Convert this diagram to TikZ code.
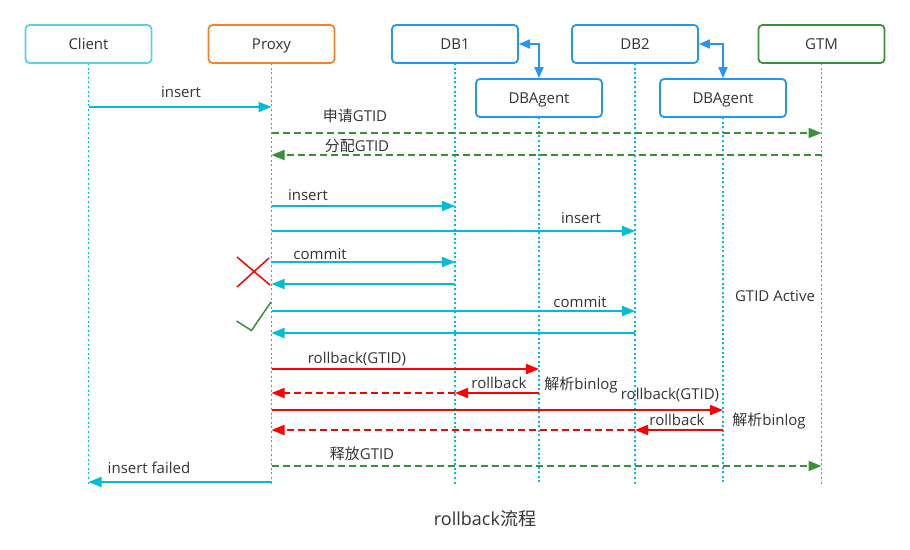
\documentclass[tikz,border=0pt]{standalone}
\usepackage{fontspec}
\setmainfont{Open Sans}
\newfontfamily\cjk{Noto Sans CJK SC}
\usetikzlibrary{arrows.meta}
\definecolor{txt}{HTML}{333333}
\definecolor{lifec}{HTML}{00BCD4}
\definecolor{cyanc}{HTML}{00BCD4}
\definecolor{clientc}{HTML}{5BD2E2}
\definecolor{proxyc}{HTML}{F5822A}
\definecolor{bluec}{HTML}{2196F3}
\definecolor{greenc}{HTML}{3A8F3A}
\definecolor{redc}{HTML}{FF0000}
\begin{document}
\begin{tikzpicture}[x=1pt,y=-1pt,
  box/.style={draw, rounded corners=4pt, line width=1.8pt, minimum width=126pt,
    minimum height=38pt, fill=white, text=txt, font=\fontsize{15}{17}\selectfont,
    text height=11pt, text depth=0pt},
  life/.style={draw=lifec, line width=1.7pt, dash pattern=on 2pt off 2.6pt},
  tip/.style={-{Triangle[length=13pt,width=10pt]}},
  msg/.style={draw=cyanc, line width=1.8pt, tip},
  gmsg/.style={draw=greenc, line width=1.8pt, dash pattern=on 7pt off 4pt, tip},
  rmsg/.style={draw=redc, line width=1.8pt, tip},
  rdmsg/.style={draw=redc, line width=1.8pt, dash pattern=on 7pt off 4pt, tip},
  bmsg/.style={draw=bluec, line width=1.8pt, {Triangle[length=11pt,width=9pt]}-{Triangle[length=11pt,width=9pt]}},
  lab/.style={text=txt, font=\fontsize{15}{17}\selectfont, inner sep=0pt}
]
\useasboundingbox (0,0) rectangle (910,549);
% lifelines
\foreach \x/\y in {88.5/63, 271.5/63, 455/63, 635/63, 821.5/63, 539/117, 723/117}
  \draw[life] (\x,\y) -- (\x,485);
% participants
\node[box, draw=clientc] (client) at (88.5,44) {Client};
\node[box, draw=proxyc] (proxy) at (271.5,44) {Proxy};
\node[box, draw=bluec] (db1) at (455,44) {DB1};
\node[box, draw=bluec] (db2) at (635,44) {DB2};
\node[box, draw=greenc] (gtm) at (821.5,44) {GTM};
\node[box, draw=bluec] (ag1) at (539,98) {DBAgent};
\node[box, draw=bluec] (ag2) at (723,98) {DBAgent};
\draw[bmsg] (db1.east) -| (ag1.north);
\draw[bmsg] (db2.east) -| (ag2.north);
% messages
\draw[msg] (client |- 0,107) -- (proxy |- 0,107);
\node[lab] (l1) at (181,92) {insert};
\draw[gmsg] (proxy |- 0,133) -- (gtm |- 0,133);
\node[lab] (l2) at (355,116) {{\cjk 申请}GTID};
\draw[gmsg] (gtm |- 0,155) -- (proxy |- 0,155);
\node[lab] (l3) at (357,146) {{\cjk 分配}GTID};
\draw[msg] (proxy |- 0,206) -- (db1 |- 0,206);
\node[lab] (l4) at (308,195) {insert};
\draw[msg] (proxy |- 0,231) -- (db2 |- 0,231);
\node[lab] (l5) at (581,218) {insert};
\draw[msg] (proxy |- 0,262) -- (db1 |- 0,262);
\node[lab] (l6) at (320,254) {commit};
\draw[msg] (db1 |- 0,284) -- (proxy |- 0,284);
\draw[msg] (proxy |- 0,311) -- (db2 |- 0,311);
\node[lab] (l7) at (580,302) {commit};
\draw[msg] (db2 |- 0,333) -- (proxy |- 0,333);
\node[lab] (l8) at (775,296) {GTID Active};
% failure and success marks
\draw[redc, line width=1.5pt] (237,257) -- (270,285) (237,287) -- (269,258);
\draw[greenc, line width=1.5pt] (236.5,321) -- (251.5,330.5) -- (271,302);
% rollback
\draw[rmsg] (proxy |- 0,369) -- (ag1 |- 0,369);
\node[lab] (l9) at (357,359) {rollback(GTID)};
\draw[rmsg] (ag1 |- 0,393) -- (db1 |- 0,393);
\draw[rdmsg] (db1 |- 0,393) -- (proxy |- 0,393);
\node[lab] (l10) at (499,383) {rollback};
\node[lab] (l11) at (581,385) {{\cjk 解析}binlog};
\draw[rmsg] (proxy |- 0,410) -- (ag2 |- 0,410);
\node[lab] (l12) at (670,395) {rollback(GTID)};
\draw[rmsg] (ag2 |- 0,430) -- (db2 |- 0,430);
\draw[rdmsg] (db2 |- 0,430) -- (proxy |- 0,430);
\node[lab] (l13) at (677,420) {rollback};
\node[lab] (l14) at (769,421) {{\cjk 解析}binlog};
\draw[gmsg] (proxy |- 0,466) -- (gtm |- 0,466);
\node[lab] (l15) at (362,454) {{\cjk 释放}GTID};
\draw[msg] (proxy |- 0,482) -- (client |- 0,482);
\node[lab] (l16) at (149,468) {insert failed};
\node[lab, font=\fontsize{18}{21}\selectfont] (title) at (485,519) {rollback{\cjk 流程}};
\end{tikzpicture}
\end{document}
